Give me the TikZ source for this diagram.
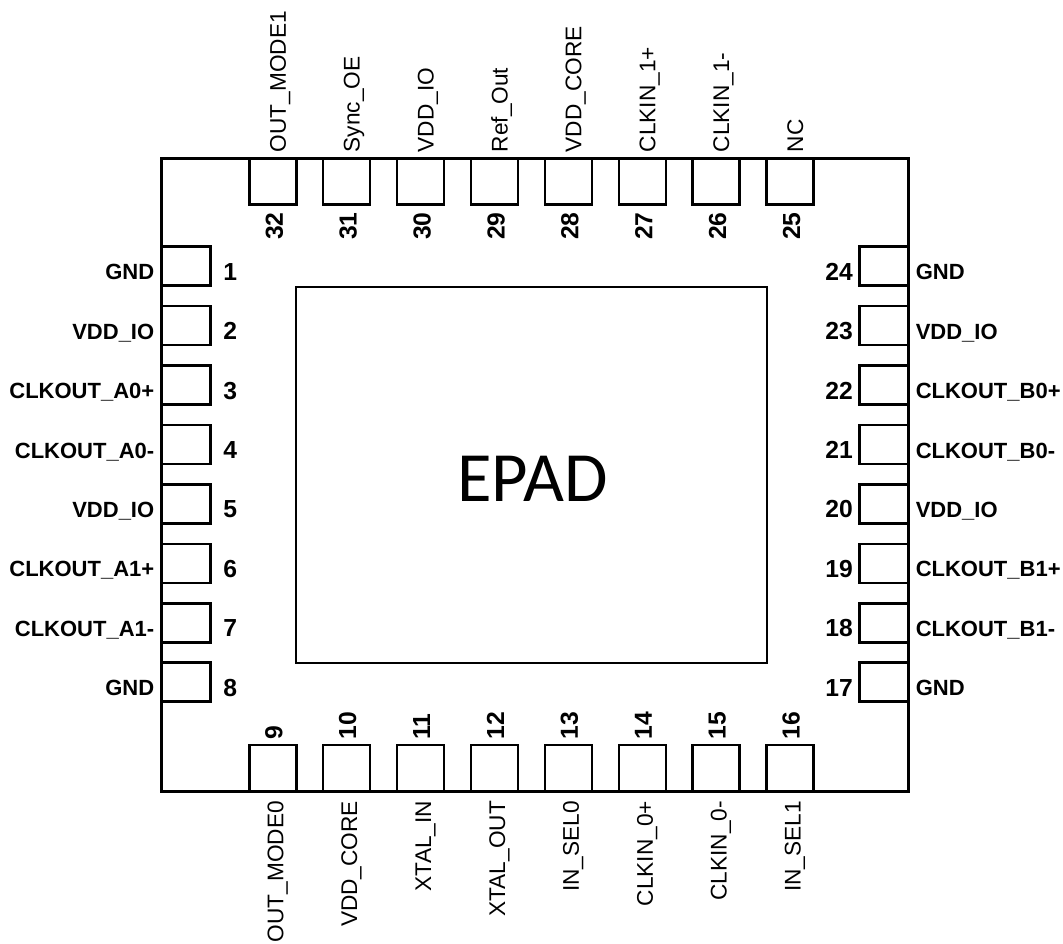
\documentclass[tikz,border=0pt]{standalone}
\usepackage{fontspec}
\setmainfont{Liberation Sans}
\newfontfamily\epadfont{Carlito}
\usetikzlibrary{calc}

\begin{document}
\begin{tikzpicture}[x=0.75pt,y=-0.75pt,line width=1.9pt,
    hpad/.style={draw,inner sep=0pt,outer sep=0pt,minimum width=35.25pt,minimum height=34.5pt},
    vpad/.style={draw,inner sep=0pt,outer sep=0pt,minimum width=36.75pt,minimum height=29.25pt},
    pinnum/.style={font=\bfseries\fontsize{18.5}{20}\selectfont,inner sep=0pt},
    pinname/.style={font=\fontsize{17}{19}\selectfont,inner sep=0pt},
    sidename/.style={font=\bfseries\fontsize{16.5}{18}\selectfont,inner sep=0pt}]
    \useasboundingbox (0,0) rectangle (1063,944);
    \node (pkg) [draw,inner sep=0pt,minimum width=560.25pt,minimum height=474.75pt] at (535,475) {};
    \node (epad) [draw,inner sep=0pt,minimum width=353.25pt,minimum height=282pt] at (531.5,475) {};
    \node (epadname) [font=\epadfont\fontsize{53}{56}\selectfont,anchor=base,inner sep=0pt] at (532.5,501.7) {EPAD};
    \foreach \k/\tname/\bname [evaluate=\k as \tpin using {int(32-\k)}, evaluate=\k as \bpin using {int(9+\k)}] in
        {0/OUT\_MODE1/OUT\_MODE0, 1/Sync\_OE/VDD\_CORE, 2/VDD\_IO/XTAL\_IN, 3/Ref\_Out/XTAL\_OUT,
         4/VDD\_CORE/IN\_SEL0, 5/CLKIN\_1+/CLKIN\_0+, 6/CLKIN\_1-/CLKIN\_0-, 7/NC/IN\_SEL1} {
        \node (p\tpin) [hpad] at (272.8+73.9*\k,181.5) {};
        \node (p\bpin) [hpad] at (272.8+73.9*\k,768.2) {};
        \node (n\tpin) [pinnum,rotate=90,anchor=base west] at ($(p\tpin.south)+(10,36.5)$) {\tpin};
        \node (t\tpin) [pinname,rotate=90,anchor=base west] at ($(p\tpin.north)+(13,-5)$) {\tname};
        \node (n\bpin) [pinnum,rotate=90,anchor=base west] at ($(p\bpin.north)+(9.5,-4.5)$) {\bpin};
        \node (t\bpin) [pinname,rotate=90,anchor=base east] at ($(p\bpin.south)+(10.5,8.5)$) {\bname};
    }
    \foreach \k/\lname/\rname [evaluate=\k as \lpin using {int(1+\k)}, evaluate=\k as \rpin using {int(24-\k)}] in
        {0/GND/GND, 1/VDD\_IO/VDD\_IO, 2/CLKOUT\_A0+/CLKOUT\_B0+, 3/CLKOUT\_A0-/CLKOUT\_B0-,
         4/VDD\_IO/VDD\_IO, 5/CLKOUT\_A1+/CLKOUT\_B1+, 6/CLKOUT\_A1-/CLKOUT\_B1-, 7/GND/GND} {
        \node (p\lpin) [vpad] at (186,266.2+59.43*\k) {};
        \node (p\rpin) [vpad] at (884,266.2+59.43*\k) {};
        \node (t\lpin) [sidename,anchor=base east] at ($(p\lpin.west)+(-6,13.6)$) {\lname};
        \node (n\lpin) [pinnum,anchor=base west] at ($(p\lpin.east)+(11.5,14)$) {\lpin};
        \node (n\rpin) [pinnum,anchor=base east] at ($(p\rpin.west)+(-5.5,14)$) {\rpin};
        \node (t\rpin) [sidename,anchor=base west] at ($(p\rpin.east)+(6,13.6)$) {\rname};
    }
\end{tikzpicture}
\end{document}
